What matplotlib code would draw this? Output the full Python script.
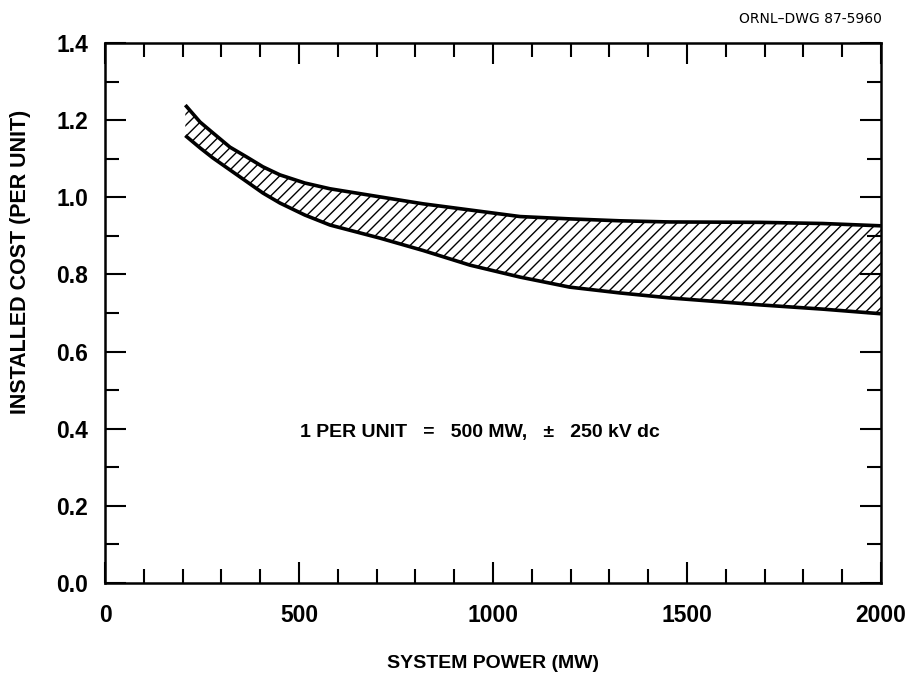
import numpy as np
import matplotlib.pyplot as plt
from matplotlib.ticker import MultipleLocator

plt.rcParams['font.family'] = ['Liberation Sans', 'DejaVu Sans']
plt.rcParams['hatch.linewidth'] = 1.0

# upper and lower bounds of the cost band
power = [207, 245, 278, 322, 366, 407, 451, 515, 580, 709, 820, 941,
         1070, 1198, 1327, 1456, 1688, 1850, 2000]
cost_high = [1.239, 1.195, 1.167, 1.130, 1.104, 1.079, 1.058, 1.037, 1.022, 1.001, 0.983, 0.967,
             0.950, 0.944, 0.939, 0.936, 0.935, 0.932, 0.926]
cost_low = [1.160, 1.128, 1.102, 1.071, 1.040, 1.011, 0.985, 0.954, 0.928, 0.894, 0.862, 0.824,
            0.793, 0.767, 0.752, 0.739, 0.721, 0.710, 0.698]

fig = plt.figure(figsize=(9.1, 6.79), dpi=100)
ax = fig.add_axes([0.1154, 0.1414, 0.8526, 0.7953])

ax.fill_between(power, cost_low, cost_high, facecolor='white', edgecolor='black',
                hatch='///', linewidth=0)
ax.plot(power, cost_high, color='black', lw=2.6, solid_capstyle='butt')
ax.plot(power, cost_low, color='black', lw=2.6, solid_capstyle='butt')

ax.set_xlim(0, 2000)
ax.set_ylim(0, 1.4)
ax.xaxis.set_major_locator(MultipleLocator(500))
ax.xaxis.set_minor_locator(MultipleLocator(100))
ax.yaxis.set_major_locator(MultipleLocator(0.2))
ax.yaxis.set_minor_locator(MultipleLocator(0.1))
ax.yaxis.set_major_formatter(plt.FormatStrFormatter('%.1f'))

ax.tick_params(which='both', direction='in', top=True, right=True, width=1.5, color='black')
ax.tick_params(which='major', length=15)
ax.tick_params(which='minor', length=10)
ax.tick_params(axis='x', which='major', pad=15, labelsize=16.5)
ax.tick_params(axis='y', which='major', pad=12, labelsize=16.5)
for lab in ax.get_xticklabels() + ax.get_yticklabels():
    lab.set_fontweight('bold')
for s in ax.spines.values():
    s.set_linewidth(1.8)

ax.set_xlabel('SYSTEM POWER (MW)', fontsize=14, fontweight='bold', labelpad=20)
ax.set_ylabel('INSTALLED COST (PER UNIT)', fontsize=15.5, fontweight='bold')
ax.yaxis.set_label_coords(-0.095, 0.594)

ax.text(502, 0.389, '1 PER UNIT   =   500 MW,   \u00b1   250 kV dc', fontsize=14,
        fontweight='bold', ha='left', va='center')

fig.text(0.969, 0.972, 'ORNL\u2013DWG 87-5960', fontsize=10, ha='right', va='center',
         family=['Liberation Sans Narrow', 'DejaVu Sans'])

fig.savefig('out.png', dpi=100)
